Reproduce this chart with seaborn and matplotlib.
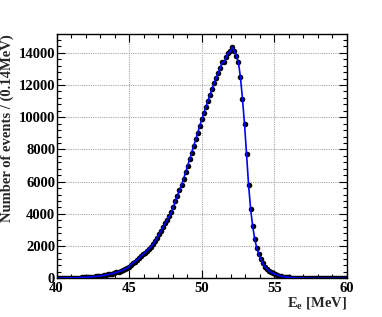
import matplotlib
matplotlib.use("Agg")
import matplotlib.pyplot as plt
import numpy as np
import pandas as pd
import seaborn as sns
from matplotlib.ticker import MultipleLocator

# bin centres: 0.14 MeV bins starting at 40 MeV
bin_width = 0.14
n_bins = 143
energy = 40.0 + bin_width * (np.arange(n_bins) + 0.5)

counts = [
    10, 12, 14, 16, 18, 21, 24, 27, 31, 35,
    40, 45, 52, 58, 66, 75, 84, 95, 107, 120,
    135, 152, 170, 190, 212, 238, 265, 296, 330, 367,
    410, 455, 505, 560, 620, 700, 850, 935, 1030, 1140,
    1250, 1370, 1490, 1600, 1720, 1840, 1970, 2120, 2310, 2520,
    2740, 2960, 3190, 3410, 3640, 3860, 4090, 4430, 4790, 5130,
    5460, 5800, 6170, 6570, 6980, 7390, 7800, 8210, 8620, 9040,
    9460, 9880, 10270, 10650, 11020, 11390, 11760, 12110, 12420, 12720,
    13050, 13400, 13430, 13750, 14000, 14080, 14330, 14120, 13830, 13400,
    12480, 11130, 9580, 7720, 5800, 4290, 3250, 2450, 1900, 1490,
    1180, 930, 730, 580, 470, 380, 320, 265, 215, 170,
    135, 108, 86, 68, 54, 43, 34, 27, 22, 18,
    14, 11, 9, 7, 6, 5, 4, 4, 3, 3,
    2, 2, 2, 1, 1, 1, 1, 0, 0, 0,
    0, 0, 0,
]

df = pd.DataFrame({"energy": energy, "counts": counts})

sns.set_theme(style="white")
plt.rcParams["font.family"] = ["Liberation Serif", "DejaVu Serif"]
plt.rcParams["font.weight"] = "bold"
plt.rcParams["mathtext.fontset"] = "custom"
plt.rcParams["mathtext.rm"] = "Liberation Serif:bold"
plt.rcParams["mathtext.it"] = "Liberation Serif:bold"
plt.rcParams["mathtext.bf"] = "Liberation Serif:bold"

fig = plt.figure(figsize=(3.82, 3.17), dpi=100)
ax = fig.add_axes([0.148, 0.122, 0.760, 0.770])

sns.scatterplot(data=df, x="energy", y="counts", ax=ax, color="black",
                s=16, linewidth=0, zorder=3, legend=False)
sns.lineplot(data=df, x="energy", y="counts", ax=ax, color="#0000ff",
             linewidth=1.2, zorder=4, legend=False)

ax.set_xlim(40, 60)
ax.set_ylim(0, 15150)
ax.xaxis.set_major_locator(MultipleLocator(5))
ax.xaxis.set_minor_locator(MultipleLocator(1))
ax.yaxis.set_major_locator(MultipleLocator(2000))
ax.yaxis.set_minor_locator(MultipleLocator(400))

ax.grid(True, which="major", color="#a8a8a8", linestyle=(0, (1, 1)), linewidth=0.8)
ax.tick_params(which="both", direction="in", top=True, right=True,
               bottom=True, left=True, colors="black", labelsize=10.5)
ax.tick_params(which="major", length=6, width=0.8)
ax.tick_params(which="minor", length=3, width=0.8)
ax.tick_params(axis="x", pad=2.5)
ax.tick_params(axis="y", pad=1)
for lab in ax.get_xticklabels() + ax.get_yticklabels():
    lab.set_fontweight("bold")
for sp in ax.spines.values():
    sp.set_color("black")
    sp.set_linewidth(1.0)

ax.set_xlabel(r"$\mathrm{E_{e}}$ [MeV]", fontsize=10.5, fontweight="bold", loc="right", labelpad=0)
ax.set_ylabel("Number of events / (0.14MeV)", fontsize=10.5, fontweight="bold", loc="top", labelpad=3)

fig.savefig("out.png", dpi=100)
